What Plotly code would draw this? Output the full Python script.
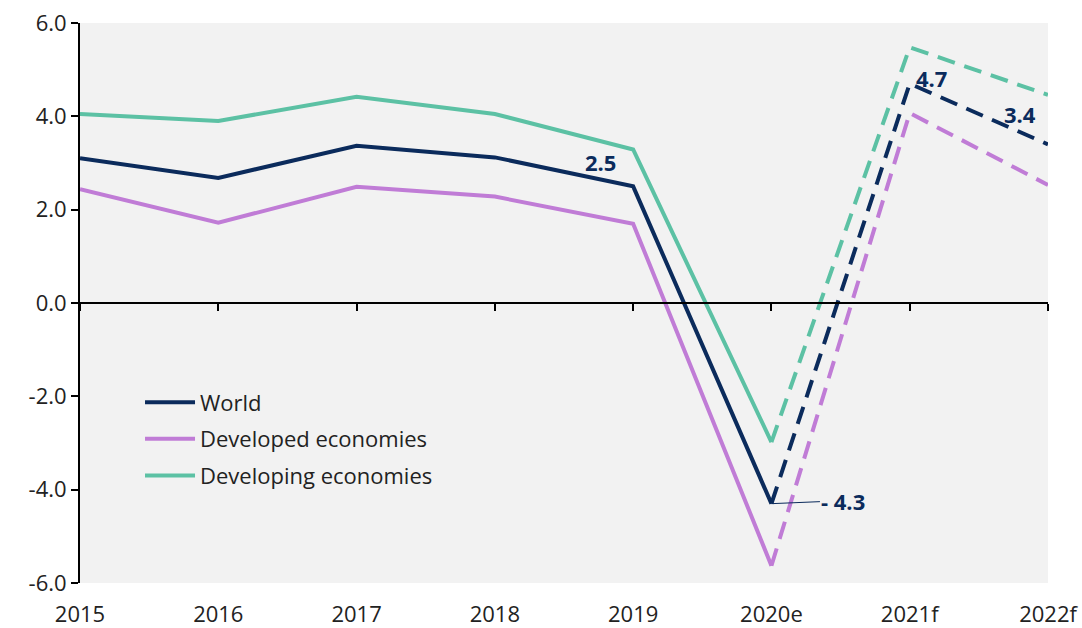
import plotly.graph_objects as go

categories = ["2015", "2016", "2017", "2018", "2019", "2020e", "2021f", "2022f"]
world = [3.1, 2.68, 3.37, 3.12, 2.5, -4.3, 4.7, 3.4]
developed = [2.44, 1.72, 2.49, 2.28, 1.7, -5.63, 4.07, 2.53]
developing = [4.05, 3.9, 4.42, 4.05, 3.29, -2.98, 5.48, 4.46]
y_ticks = [-6, -4, -2, 0, 2, 4, 6]
y_tick_labels = [f"{v:.1f}" for v in y_ticks]

series = [
    ("World", world, "#0b2b5c"),
    ("Developed economies", developed, "#c07cd6"),
    ("Developing economies", developing, "#5cc1a4"),
]

FONT = "Open Sans"
FS = 22
split = categories.index("2020e")

fig = go.Figure()
for name, vals, color in series:
    fig.add_trace(go.Scatter(
        x=categories[:split + 1], y=vals[:split + 1], mode="lines", name=name,
        legendgroup=name, line=dict(color=color, width=4), showlegend=True))
for name, vals, color in series:
    fig.add_trace(go.Scatter(
        x=categories[split:], y=vals[split:], mode="lines", name=name,
        legendgroup=name, line=dict(color=color, width=4, dash="18px,10px"),
        showlegend=False))

# invisible trace on the zero-line axis so it is drawn
fig.add_trace(go.Scatter(x=categories, y=[None] * len(categories), xaxis="x2",
                         showlegend=False, hoverinfo="skip"))

label_color = "#0b2b5c"
ann = [
    (4, -33, 24),
    (6, 22, 6),
    (7, -28, 30),
]
for i, xs, ys in ann:
    fig.add_annotation(x=i, y=world[i], text=f"{world[i]:.1f}", showarrow=False,
                       xshift=xs, yshift=ys,
                       font=dict(family=FONT, size=22, color=label_color, weight="bold"))
fig.add_annotation(x=5, y=world[5], text=f"- {abs(world[5]):.1f}", showarrow=True,
                   arrowhead=0, arrowwidth=1, arrowcolor=label_color, ax=72, ay=-3,
                   font=dict(family=FONT, size=22, color=label_color, weight="bold"))

fig.update_layout(
    width=1082, height=628,
    margin=dict(l=80, r=34, t=23, b=45),
    paper_bgcolor="white", plot_bgcolor="#f2f2f2",
    font=dict(family=FONT, size=FS, color="#222222"),
    showlegend=True,
    legend=dict(x=0.062, y=0.36, xanchor="left", yanchor="top", bgcolor="rgba(0,0,0,0)",
                font=dict(family=FONT, size=FS, color="#222222"), tracegroupgap=5,
                itemwidth=50),
    xaxis=dict(type="category", range=[0, len(categories) - 1], showgrid=False,
               showline=False, zeroline=False, ticks="outside", ticklen=12,
               tickcolor="rgba(0,0,0,0)", automargin=False,
               tickfont=dict(family=FONT, size=FS, color="#222222")),
    xaxis2=dict(type="category", overlaying="x", anchor="free", position=0.5,
                range=[0, len(categories) - 1], showgrid=False, showline=True,
                linecolor="black", linewidth=2, ticks="outside", ticklen=7, tickwidth=2,
                tickcolor="black", showticklabels=False, zeroline=False, automargin=False),
    yaxis=dict(range=[-6, 6], tickvals=y_ticks, ticktext=y_tick_labels, showgrid=False,
               zeroline=False, showline=True, linecolor="black", linewidth=2,
               ticks="outside", ticklen=7, tickwidth=2, tickcolor="black", automargin=False,
               tickfont=dict(family=FONT, size=FS, color="#222222")),
)

fig.write_html("out.html", config={"displayModeBar": False},
               post_script="document.body.style.margin='0';document.body.style.overflow='hidden';")
